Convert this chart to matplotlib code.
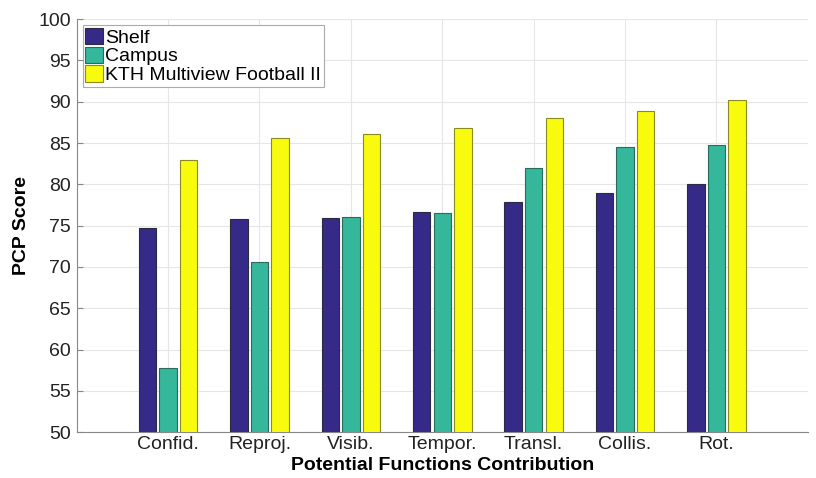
import numpy as np
from matplotlib import pyplot as plt

plt.rcParams['font.family'] = ['Liberation Sans', 'DejaVu Sans']

categorias = ["Confid.", "Reproj.", "Visib.", "Tempor.", "Transl.", "Collis.", "Rot."]
shelf = [74.7, 75.8, 75.9, 76.7, 77.9, 78.9, 80.0]
campus = [57.8, 70.6, 76.1, 76.5, 82.0, 84.5, 84.7]
kth = [82.9, 85.6, 86.1, 86.8, 88.0, 88.9, 90.2]

series = [shelf, campus, kth]
nombres = ["Shelf", "Campus", "KTH Multiview Football II"]
colores = ["#352a87", "#35b79c", "#f9fb0e"]
bordes = ["#2a2a40", "#2a6a5a", "#8a8a20"]

fig = plt.figure(figsize=(8.16, 4.78), dpi=100)
ax = fig.add_axes([0.094, 0.096, 0.896, 0.864])

x = np.arange(1, len(categorias) + 1)
ancho = 0.19
desp = 0.225
for i in range(3):
    ax.bar(x + (i - 1) * desp, series[i], ancho, bottom=0, color=colores[i],
           edgecolor=bordes[i], linewidth=0.8, label=nombres[i], zorder=3)

ax.set_xlim(0, 8)
ax.set_ylim(50, 100)
ax.set_yticks(range(50, 101, 5))
ax.set_xticks(x)
ax.set_xticklabels(categorias)
ax.tick_params(axis='both', labelsize=14, direction='in', length=4, color='#888888', colors='#222222')
ax.tick_params(axis='x', length=0, pad=3)
ax.tick_params(axis='y', pad=4)
ax.grid(True, color='#e6e6e6', linewidth=0.8, zorder=0)
for s in ['top', 'right']:
    ax.spines[s].set_visible(False)
for s in ['left', 'bottom']:
    ax.spines[s].set_color('#888888')

ax.set_xlabel("Potential Functions Contribution", fontsize=14, fontweight='bold', labelpad=3)
ax.set_ylabel("PCP Score", fontsize=14, fontweight='bold', labelpad=6)

leg = ax.legend(loc='upper left', fontsize=14, handlelength=0.9, handleheight=0.9,
                handletextpad=0.1, labelspacing=0.0, borderpad=0.15,
                borderaxespad=0.3, fancybox=False, framealpha=1)
leg.get_frame().set_edgecolor('#aaaaaa')
leg.get_frame().set_linewidth(0.8)

plt.savefig("out.png", dpi=100)
